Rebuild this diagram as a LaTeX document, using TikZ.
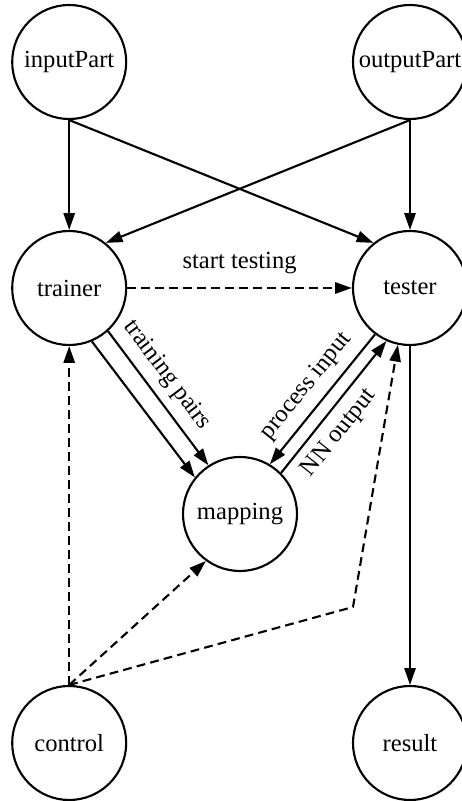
\documentclass[tikz,border=0pt]{standalone}
\usepackage{fontspec}
\setmainfont{Liberation Serif}
\usepackage{tikz}
\usetikzlibrary{arrows.meta,positioning}
\tikzstyle{state} = [circle, draw, line width=1.5pt, minimum size=2.85cm, inner sep=0pt, font=\fontsize{17.5}{20}\selectfont]
\tikzstyle{arrow} = [line width=1.5pt, -{Triangle[length=0.42cm, width=0.28cm]}]
\tikzstyle{ctrl} = [arrow, dash pattern=on 0.22cm off 0.13cm]
\tikzstyle{lbl} = [font=\fontsize{17.5}{20}\selectfont]

\begin{document}
\begin{tikzpicture}
\useasboundingbox (0,0) rectangle (11.55,20.025);
% Parts
\node[state] (input) at (1.73,18.475) {inputPart};
\node[state] (output) at (10.25,18.475) {outputPart};

% Trainer and tester
\node[state] (trainer) at (1.73,12.825) {trainer};
\node[state] (tester) at (10.25,12.825) {tester};

% Network
\node[state] (mapping) at (6.0,7.175) {mapping};

% Bottom
\node[state] (control) at (1.73,1.45) {control};
\node[state] (result) at (10.25,1.45) {result};
\coordinate (bend) at (8.825,4.85);

% Arrows
\draw[arrow] (input.south) -- (trainer.north);
\draw[arrow] (input.south) -- (tester.129);
\draw[arrow] (output.south) -- (tester.north);
\draw[arrow] (output.south) -- (trainer.51);
\draw[ctrl] (trainer.east) -- node[lbl, above=6pt] {start testing} (tester.west);
\draw[arrow] (trainer.-48) -- node[lbl, above=3pt, sloped, pos=0.42] {training pairs} (mapping.123);
\draw[arrow] (trainer.-67) -- (mapping.141);
\draw[arrow] (tester.233) -- node[lbl, above=3pt, sloped] {process input} (mapping.59);
\draw[arrow] (mapping.45) -- node[lbl, below=3pt, sloped, pos=0.4] {NN output} (tester.246);
\draw[arrow] (tester.south) -- (result.north);

% Control
\draw[ctrl] (control.north) -- (trainer.south);
\draw[ctrl] (control.north) -- (mapping.234);
\draw[ctrl] (control.north) -- (bend) -- (tester.258);
\end{tikzpicture}
\end{document}
